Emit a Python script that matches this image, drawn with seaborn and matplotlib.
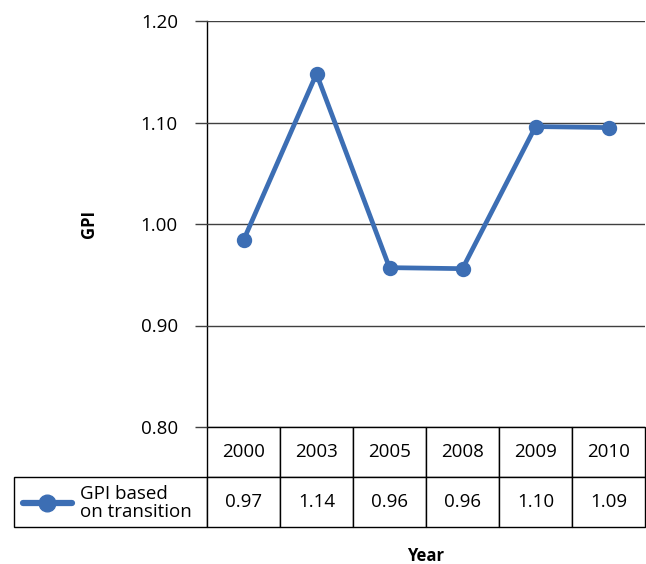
import matplotlib
matplotlib.use("Agg")
import matplotlib.pyplot as plt
from matplotlib.lines import Line2D
import seaborn as sns
import pandas as pd

# data
years = ["2000", "2003", "2005", "2008", "2009", "2010"]
gpi_plotted = [0.984, 1.148, 0.957, 0.956, 1.096, 1.095]
gpi_table = ["0.97", "1.14", "0.96", "0.96", "1.10", "1.09"]
series_name = "GPI based\non transition"
y_ticks = [0.80, 0.90, 1.00, 1.10, 1.20]

BLUE = "#3C6EB4"
FONT = ["Open Sans", "DejaVu Sans"]

sns.set_style("white")
plt.rcParams["font.family"] = FONT
plt.rcParams["text.color"] = "black"
plt.rcParams["axes.labelcolor"] = "black"
plt.rcParams["ytick.color"] = "black"

W, H = 646, 564
fig = plt.figure(figsize=(W / 100, H / 100), dpi=100)

# plot area in pixels
left, right, top, bottom = 207, 645, 21, 427
ax = fig.add_axes([left / W, 1 - bottom / H, (right - left) / W, (bottom - top) / H])

df = pd.DataFrame({"year": years, "gpi": gpi_plotted})
sns.pointplot(data=df, x="year", y="gpi", color=BLUE, markers="o", linestyles="-",
              errorbar=None, markersize=8.5, linewidth=3.4, ax=ax)

ax.set_xlim(-0.5, len(years) - 0.5)
ax.set_ylim(0.80, 1.20)
ax.set_yticks(y_ticks)
ax.set_yticklabels([f"{v:.2f}" for v in y_ticks], fontsize=13.5)
ax.tick_params(axis="y", direction="out", length=9, width=1, color="#404040",
               pad=12, left=True, labelcolor="black")
ax.tick_params(axis="x", length=0, labelbottom=False)
ax.set_xlabel("")
ax.set_ylabel("GPI", fontsize=12, fontweight="bold", labelpad=31)
ax.yaxis.grid(True, color="#404040", linewidth=1)
ax.set_axisbelow(True)
for s in ["top", "right", "bottom"]:
    ax.spines[s].set_visible(False)
ax.spines["left"].set_color("black")
ax.spines["left"].set_linewidth(1)
ax.spines["left"].set_zorder(0)

# data table below the plot area
ax_w = right - left
ax_h = bottom - top
label_w = left - 14
row_h = 50
tbl = ax.table(
    cellText=[[""] + years, [""] + gpi_table],
    cellLoc="center",
    colWidths=[label_w] + [ax_w / len(years)] * len(years),
    bbox=[-label_w / ax_w, -2 * row_h / ax_h, 1 + label_w / ax_w, 2 * row_h / ax_h],
)
tbl.auto_set_font_size(False)
for (r, c), cell in tbl.get_celld().items():
    cell.set_linewidth(1)
    cell.set_edgecolor("black")
    cell.get_text().set_fontsize(13.5)
    cell.get_text().set_fontfamily(FONT)
    cell.get_text().set_color("black")
tbl[0, 0].visible_edges = ""

# legend key inside the table's row label cell
fig.add_artist(Line2D([23 / W, 72 / W], [1 - 503 / H] * 2, color=BLUE, lw=4.5))
fig.add_artist(Line2D([47 / W], [1 - 503 / H], color=BLUE, marker="o",
                      markersize=12, lw=0))
fig.text(80 / W, 1 - 503 / H, series_name, fontsize=13.5, va="center", ha="left",
         linespacing=1.0, family=FONT)

fig.text((left + right) / 2 / W, 1 - 556 / H, "Year", fontsize=12,
         fontweight="bold", ha="center", va="center", family=FONT)

fig.savefig("out.png", dpi=100)
